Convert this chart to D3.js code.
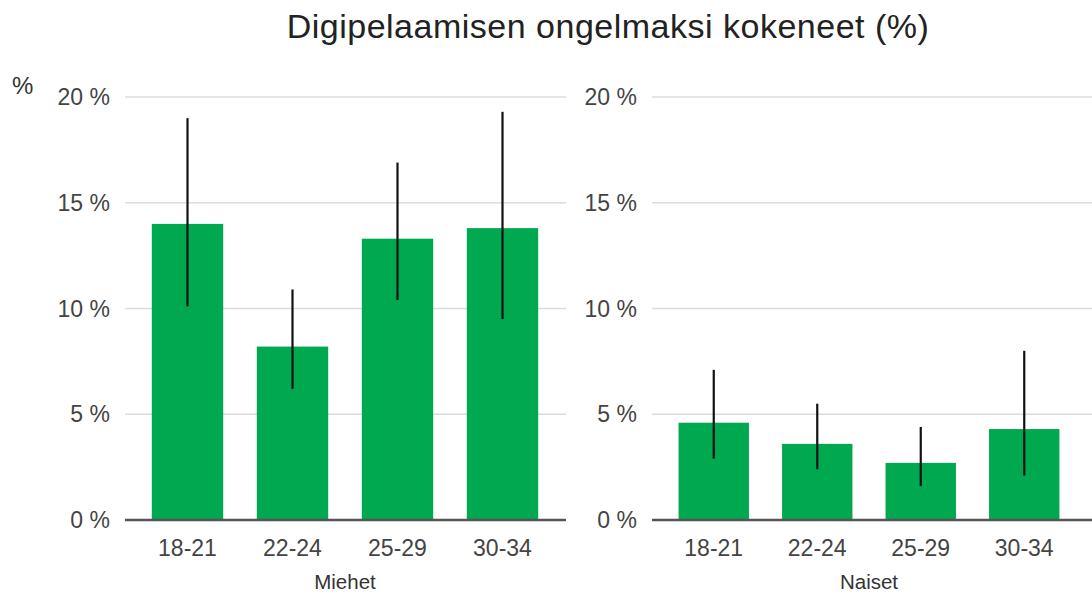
<!doctype html>
<html>
  <head>
    <meta charset="utf-8">
    <title>Digipelaamisen ongelmaksi kokeneet</title>
    <style>
      body { margin: 0; background: #fff; }
      svg text { font-family: "Liberation Sans", Arial, sans-serif; }
    </style>
    <script src="https://cdnjs.cloudflare.com/ajax/libs/d3/7.8.5/d3.min.js"></script>
  </head>
  <body>
    <div id="chart"></div>
    <script>
      // age groups and values (%)
      const ageGroups = ['18-21', '22-24', '25-29', '30-34'];
      const yTicks = [0, 5, 10, 15, 20];

      const menValues = [14.0, 8.2, 13.3, 13.8];
      const menLow    = [10.1, 6.2, 10.4, 9.5];
      const menHigh   = [19.0, 10.9, 16.9, 19.3];

      const womenValues = [4.6, 3.6, 2.7, 4.3];
      const womenLow    = [2.9, 2.4, 1.6, 2.1];
      const womenHigh   = [7.1, 5.5, 4.4, 8.0];

      const panels = [
        { title: 'Miehet', values: menValues, low: menLow, high: menHigh, x0: 135, x1: 555, gridEnd: 566 },
        { title: 'Naiset', values: womenValues, low: womenLow, high: womenHigh, x0: 662, x1: 1076, gridEnd: 1092 }
      ];

      const width = 1092, height = 594;
      const svg = d3.select('#chart').append('svg')
        .attr('width', width)
        .attr('height', height);

      const y = d3.scaleLinear().domain([0, 20]).range([520, 97]);

      svg.append('text')
        .attr('x', 608)
        .attr('y', 38)
        .attr('text-anchor', 'middle')
        .style('font-size', '34px')
        .style('letter-spacing', '0.5px')
        .style('fill', '#222')
        .text('Digipelaamisen ongelmaksi kokeneet (%)');

      svg.append('text')
        .attr('x', 12)
        .attr('y', 94)
        .style('font-size', '24px')
        .style('fill', '#333')
        .text('%');

      panels.forEach(p => {
        const x = d3.scaleBand()
          .domain(ageGroups)
          .range([p.x0, p.x1])
          .paddingInner(0.32)
          .paddingOuter(0.16);

        const g = svg.append('g');

        // gridlines
        g.selectAll('line.grid')
          .data(yTicks.filter(t => t > 0))
          .enter().append('line')
          .attr('x1', p.x0 - 10)
          .attr('x2', p.gridEnd)
          .attr('y1', d => y(d))
          .attr('y2', d => y(d))
          .attr('stroke', '#dcdcdc')
          .attr('stroke-width', 1.5);

        // y tick labels
        g.selectAll('text.ytick')
          .data(yTicks)
          .enter().append('text')
          .attr('x', p.x0 - 25)
          .attr('y', d => y(d))
          .attr('dy', '0.35em')
          .attr('text-anchor', 'end')
          .style('font-size', '23px')
          .style('fill', '#444')
          .text(d => d + ' %');

        // bars
        g.selectAll('rect')
          .data(p.values)
          .enter().append('rect')
          .attr('x', (d, i) => x(ageGroups[i]))
          .attr('y', d => y(d))
          .attr('width', x.bandwidth())
          .attr('height', d => y(0) - y(d))
          .attr('fill', '#00a84f');

        // error bars
        g.selectAll('line.err')
          .data(p.values)
          .enter().append('line')
          .attr('x1', (d, i) => x(ageGroups[i]) + x.bandwidth() / 2)
          .attr('x2', (d, i) => x(ageGroups[i]) + x.bandwidth() / 2)
          .attr('y1', (d, i) => y(p.low[i]))
          .attr('y2', (d, i) => y(p.high[i]))
          .attr('stroke', '#111')
          .attr('stroke-width', 2.2);

        // baseline
        g.append('line')
          .attr('x1', p.x0 - 10)
          .attr('x2', p.gridEnd)
          .attr('y1', y(0))
          .attr('y2', y(0))
          .attr('stroke', '#555')
          .attr('stroke-width', 2.5);

        // category labels
        g.selectAll('text.xtick')
          .data(ageGroups)
          .enter().append('text')
          .attr('x', d => x(d) + x.bandwidth() / 2)
          .attr('y', 556)
          .attr('text-anchor', 'middle')
          .style('font-size', '23px')
          .style('fill', '#444')
          .text(d => d);

        g.append('text')
          .attr('x', (p.x0 + p.x1) / 2)
          .attr('y', 589)
          .attr('text-anchor', 'middle')
          .style('font-size', '20.5px')
          .style('fill', '#333')
          .text(p.title);
      });
    </script>
  </body>
</html>
